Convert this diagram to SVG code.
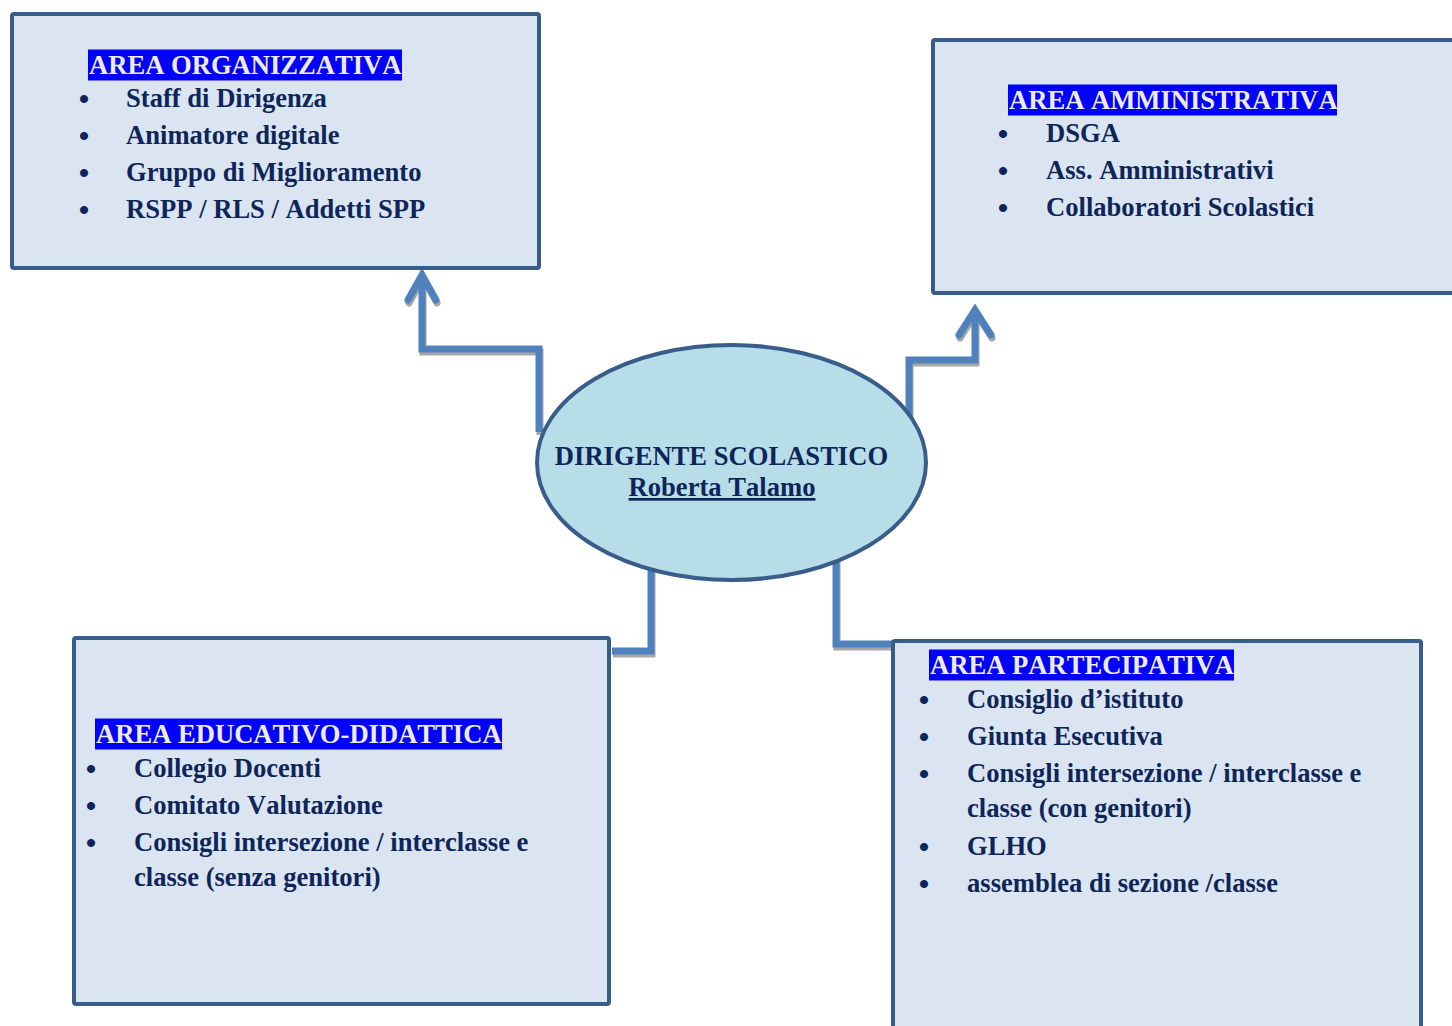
<svg xmlns="http://www.w3.org/2000/svg" width="1452" height="1026" viewBox="0 0 1452 1026">
<style>
.box{fill:#dbe5f1;stroke:#385d8a;stroke-width:4;}
.ell{fill:#b7dde8;stroke:#385d8a;stroke-width:4;}
.con{fill:none;stroke:#4f81bd;stroke-width:7;stroke-linejoin:miter;stroke-linecap:butt;}
.shd{fill:none;stroke:#a6a6a6;stroke-width:7;stroke-linejoin:miter;stroke-linecap:butt;}
.chev{fill:none;stroke:#4f81bd;stroke-width:7;stroke-linejoin:miter;stroke-miterlimit:10;stroke-linecap:round;}
.chevs{fill:none;stroke:#a6a6a6;stroke-width:7;stroke-linejoin:miter;stroke-miterlimit:10;stroke-linecap:round;}
.hl{fill:#0000ff;}
text{font-family:"Liberation Serif","Times New Roman",serif;font-weight:bold;font-size:26.6px;fill:#0e2559;font-kerning:none;}
.hd{fill:#eeece1;}
.bul{font-size:30px;}
</style>
<rect width="1452" height="1026" fill="#ffffff"/>
<g id="connectors">
  <g transform="translate(1,3)">
    <path class="shd" d="M539,432 V349 H422 V280"/>
    <path class="chevs" d="M408,300 L422,275 L436,300"/>
    <path class="shd" d="M909,425 V360 H975 V316"/>
    <path class="chevs" d="M959,335 L975,310 L991,335"/>
    <path class="shd" d="M651,566 V651 H612"/>
    <path class="shd" d="M836,554 V644 H893"/>
  </g>
  <path class="con" d="M539,432 V349 H422 V280"/>
  <path class="chev" d="M408,300 L422,275 L436,300"/>
  <path class="con" d="M909,425 V360 H975 V316"/>
  <path class="chev" d="M959,335 L975,310 L991,335"/>
  <path class="con" d="M651,566 V651 H612"/>
  <path class="con" d="M836,554 V644 H893"/>
</g>
<g id="area-organizzativa">
  <rect class="box" x="12" y="14" width="527" height="254" rx="2"/>
  <rect class="hl" x="88" y="49.5" width="314" height="31"/>
  <text class="hd" x="89" y="74">AREA ORGANIZZATIVA</text>
  <text class="bul" x="78.7" y="109">•</text><text x="126" y="107">Staff di Dirigenza</text>
  <text class="bul" x="78.7" y="146">•</text><text x="126" y="144">Animatore digitale</text>
  <text class="bul" x="78.7" y="183">•</text><text x="126" y="181">Gruppo di Miglioramento</text>
  <text class="bul" x="78.7" y="220">•</text><text x="126" y="218">RSPP / RLS / Addetti SPP</text>
</g>
<g id="area-amministrativa">
  <rect class="box" x="933" y="40" width="540" height="253" rx="2"/>
  <rect class="hl" x="1008" y="84.5" width="329" height="31"/>
  <text class="hd" x="1009" y="109">AREA AMMINISTRATIVA</text>
  <text class="bul" x="997.7" y="144">•</text><text x="1046" y="142">DSGA</text>
  <text class="bul" x="997.7" y="181">•</text><text x="1046" y="179">Ass. Amministrativi</text>
  <text class="bul" x="997.7" y="218">•</text><text x="1046" y="216">Collaboratori Scolastici</text>
</g>
<g id="area-educativo-didattica">
  <rect class="box" x="74" y="638" width="535" height="366" rx="2"/>
  <rect class="hl" x="95" y="718.5" width="407" height="31"/>
  <text class="hd" x="96" y="743">AREA EDUCATIVO-DIDATTICA</text>
  <text class="bul" x="85.7" y="779">•</text><text x="134" y="777">Collegio Docenti</text>
  <text class="bul" x="85.7" y="816">•</text><text x="134" y="814">Comitato Valutazione</text>
  <text class="bul" x="85.7" y="853">•</text><text x="134" y="851">Consigli intersezione / interclasse e</text>
  <text x="134" y="886">classe (senza genitori)</text>
</g>
<g id="area-partecipativa">
  <rect class="box" x="893" y="641" width="528" height="400" rx="2"/>
  <rect class="hl" x="929" y="649.5" width="305" height="31"/>
  <text class="hd" x="930" y="674">AREA PARTECIPATIVA</text>
  <text class="bul" x="918.7" y="710">•</text><text x="967" y="708">Consiglio d’istituto</text>
  <text class="bul" x="918.7" y="747">•</text><text x="967" y="745">Giunta Esecutiva</text>
  <text class="bul" x="918.7" y="784">•</text><text x="967" y="782">Consigli intersezione / interclasse e</text>
  <text x="967" y="817">classe (con genitori)</text>
  <text class="bul" x="918.7" y="857">•</text><text x="967" y="855">GLHO</text>
  <text class="bul" x="918.7" y="894">•</text><text x="967" y="892">assemblea di sezione /classe</text>
</g>
<g id="dirigente-scolastico">
  <ellipse class="ell" cx="731.5" cy="462.5" rx="194.5" ry="117.5"/>
  <text x="721.5" y="465" text-anchor="middle">DIRIGENTE SCOLASTICO</text>
  <text x="722" y="496" text-anchor="middle" text-decoration="underline">Roberta Talamo</text>
</g>
</svg>
